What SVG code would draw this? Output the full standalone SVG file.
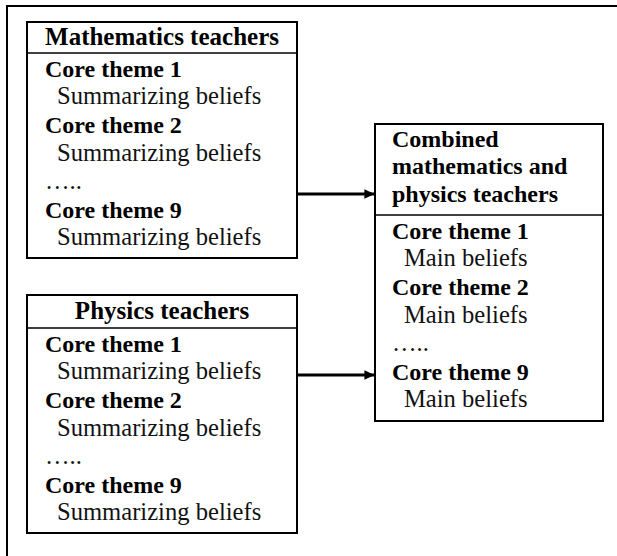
<svg xmlns="http://www.w3.org/2000/svg" width="617" height="556" viewBox="0 0 617 556">
<style>
.box{fill:#fff;stroke:#000;stroke-width:2}
.div{stroke:#000;stroke-width:1.5}
.b{font-family:"Liberation Serif","Times New Roman",serif;font-size:24px;font-weight:bold;fill:#000}
.h{font-size:25px}
.r{font-family:"Liberation Serif","Times New Roman",serif;font-size:24.6px;fill:#111}
.c{text-anchor:middle}
.conn{stroke:#000;stroke-width:3;fill:none}
</style>
<defs>
<marker id="ah" markerWidth="4" markerHeight="4" refX="3.2" refY="2" orient="auto" markerUnits="strokeWidth">
<path d="M0,0.4 L3.4,2 L0,3.6 Z" fill="#000"/>
</marker>
</defs>
<rect width="617" height="556" fill="#fff"/>
<path d="M7,556 V6 H617" fill="none" stroke="#000" stroke-width="2"/>
<g id="math">
<rect class="box" x="27" y="22" width="270" height="236"/>
<line class="div" x1="27" y1="53" x2="297" y2="53"/>
<text class="b h c" x="162" y="45">Mathematics teachers</text>
<text class="b" x="45" y="77">Core theme 1</text>
<text class="r" x="57" y="104">Summarizing beliefs</text>
<text class="b" x="45" y="133">Core theme 2</text>
<text class="r" x="57" y="161">Summarizing beliefs</text>
<text class="r" x="45" y="189">…..</text>
<text class="b" x="45" y="218">Core theme 9</text>
<text class="r" x="57" y="245">Summarizing beliefs</text>
</g>
<g id="physics">
<rect class="box" x="27" y="295" width="270" height="238"/>
<line class="div" x1="27" y1="328" x2="297" y2="328"/>
<text class="b h c" x="162" y="319">Physics teachers</text>
<text class="b" x="45" y="352">Core theme 1</text>
<text class="r" x="57" y="379">Summarizing beliefs</text>
<text class="b" x="45" y="408">Core theme 2</text>
<text class="r" x="57" y="436">Summarizing beliefs</text>
<text class="r" x="45" y="464">…..</text>
<text class="b" x="45" y="493">Core theme 9</text>
<text class="r" x="57" y="520">Summarizing beliefs</text>
</g>
<g id="combined">
<rect class="box" x="375" y="124" width="228" height="297"/>
<line class="div" x1="375" y1="215" x2="603" y2="215"/>
<text class="b" x="392" y="147">Combined</text>
<text class="b" x="392" y="174">mathematics and</text>
<text class="b" x="392" y="202">physics teachers</text>
<text class="b" x="392" y="239">Core theme 1</text>
<text class="r" x="404" y="266">Main beliefs</text>
<text class="b" x="392" y="295">Core theme 2</text>
<text class="r" x="404" y="323">Main beliefs</text>
<text class="r" x="392" y="351">…..</text>
<text class="b" x="392" y="380">Core theme 9</text>
<text class="r" x="404" y="407">Main beliefs</text>
</g>
<g id="connectors">
<line class="conn" x1="297" y1="194" x2="374" y2="194" marker-end="url(#ah)"/>
<line class="conn" x1="297" y1="375" x2="374" y2="375" marker-end="url(#ah)"/>
</g>
</svg>
